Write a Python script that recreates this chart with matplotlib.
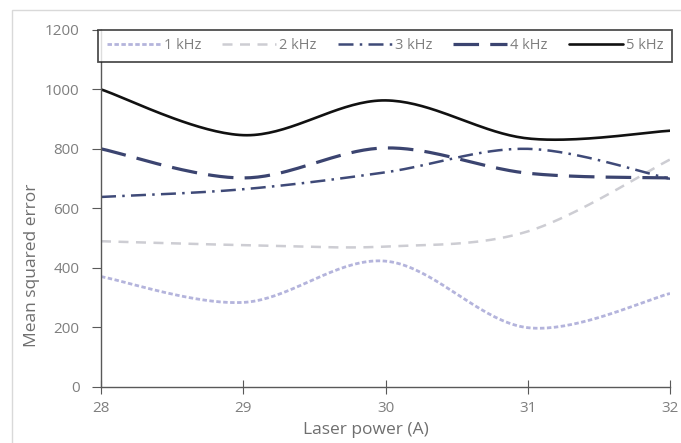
import numpy as np
import matplotlib
matplotlib.use("Agg")
import matplotlib.pyplot as plt
from matplotlib.patches import Rectangle

laser_power = [28, 29, 30, 31, 32]
series_names = ["1 kHz", "2 kHz", "3 kHz", "4 kHz", "5 kHz"]
mse_1khz = [370, 283, 422, 198, 313]
mse_2khz = [489, 476, 471, 522, 764]
mse_3khz = [638, 664, 721, 800, 699]
mse_4khz = [800, 702, 803, 718, 702]
mse_5khz = [1000, 846, 963, 835, 861]
y_ticks = [0, 200, 400, 600, 800, 1000, 1200]
x_ticks = [28, 29, 30, 31, 32]

all_series = [mse_1khz, mse_2khz, mse_3khz, mse_4khz, mse_5khz]
colors = ["#b4b4dc", "#cdcdd3", "#3f4a78", "#3b4470", "#111111"]
styles = [(0, (1.6, 0.9)), (0, (4, 3)), (0, (6, 2.5, 1, 2.5)), (0, (8, 3.5)), "-"]
widths = [2.0, 1.8, 1.8, 2.3, 1.9]


def smooth(xs, ys, n=40):
    # Excel-like smoothing: cubic Bezier with Catmull-Rom control points
    xs = np.asarray(xs, float)
    ys = np.asarray(ys, float)
    px = np.concatenate([[xs[0]], xs, [xs[-1]]])
    py = np.concatenate([[ys[0]], ys, [ys[-1]]])
    ox, oy = [], []
    t = np.linspace(0, 1, n)
    for i in range(1, len(px) - 2):
        p0 = np.array([px[i], py[i]])
        p3 = np.array([px[i + 1], py[i + 1]])
        c1 = p0 + (np.array([px[i + 1], py[i + 1]]) - np.array([px[i - 1], py[i - 1]])) / 6
        c2 = p3 - (np.array([px[i + 2], py[i + 2]]) - np.array([px[i], py[i]])) / 6
        b = ((1 - t) ** 3)[:, None] * p0 + (3 * (1 - t) ** 2 * t)[:, None] * c1 + \
            (3 * (1 - t) * t ** 2)[:, None] * c2 + (t ** 3)[:, None] * p3
        ox.extend(b[:, 0]); oy.extend(b[:, 1])
    return np.array(ox), np.array(oy)


plt.rcParams['font.family'] = ['Open Sans', 'DejaVu Sans']
fig = plt.figure(figsize=(6.81, 4.43), dpi=100)
fig.patches.append(Rectangle((12 / 681, -0.02), 1.0, 1 - 10 / 443 + 0.02,
                             transform=fig.transFigure, fill=False,
                             edgecolor="#d9d9d9", linewidth=1.0))
ax = fig.add_axes([101 / 681, 1 - 386.5 / 443, 569 / 681, 356.5 / 443])

for name, vals, c, ls, lw in zip(series_names, all_series, colors, styles, widths):
    sx, sy = smooth(laser_power, vals)
    ax.plot(sx, sy, color=c, linestyle=ls, linewidth=lw, label=name,
            dash_capstyle="butt", solid_capstyle="round")

ax.set_xlim(28, 32)
ax.set_ylim(0, 1200)
ax.set_xticks(x_ticks)
ax.set_yticks(y_ticks)
for s in ["top", "right"]:
    ax.spines[s].set_visible(False)
for s in ["left", "bottom"]:
    ax.spines[s].set_color("#595959")
    ax.spines[s].set_linewidth(1.0)
ax.tick_params(axis="y", direction="out", length=6.5, color="#595959",
               labelcolor="#7f7f7f", labelsize=11, pad=9)
ax.tick_params(axis="x", direction="inout", length=9.5, color="#595959",
               labelcolor="#7f7f7f", labelsize=11, pad=6)
ax.set_xlabel("Laser power (A)", color="#6f6f6f", fontsize=12.5)
ax.set_ylabel("Mean squared error", color="#6f6f6f", fontsize=12.5)
ax.xaxis.set_label_coords(0.466, -0.100)
ax.yaxis.set_label_coords(-0.108, 0.34)

leg = fig.legend(loc="lower left", bbox_to_anchor=(98 / 681, 1 - 62 / 443, 574 / 681, 34 / 443),
                 mode="expand", ncol=5, frameon=True, fancybox=False,
                 fontsize=10.5, handlelength=3.7, handletextpad=0.2,
                 borderaxespad=0, borderpad=0.6, columnspacing=1.0)
leg.get_frame().set_edgecolor("#222222")
leg.get_frame().set_linewidth(1.3)
for t in leg.get_texts():
    t.set_color("#7f7f7f")

fig.savefig("out.png", dpi=100)
